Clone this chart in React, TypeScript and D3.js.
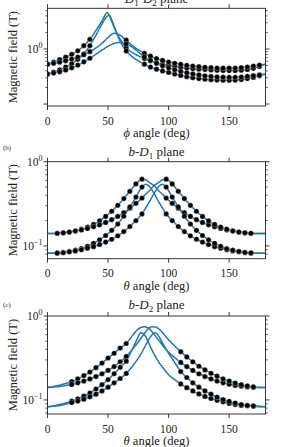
import React from "react";
import * as d3 from "d3";

const W = 293;
const H = 447;
const X0 = 47.5;
const X1 = 265.5;

// ---------- Panel (a): D1-D2 plane ----------
const anglesA = [0,5,10,15,20,25,30,35,38,41,44,47,49,51,53,55,58,61,65,70,75,80,85,90,95,100,105,110,115,120,125,130,135,140,145,150,155,160,165,170,175,180];
const a1 = [0.53,0.58,0.64,0.71,0.80,0.93,1.15,1.5,1.85,2.35,3.0,3.9,4.6,4.1,3.2,2.5,1.8,1.4,1.05,0.86,0.75,0.67,0.61,0.565,0.53,0.505,0.485,0.467,0.452,0.44,0.43,0.422,0.415,0.41,0.407,0.405,0.407,0.413,0.425,0.445,0.48,0.53];
const a2 = [0.35,0.38,0.42,0.47,0.54,0.65,0.82,1.15,1.5,1.95,2.6,3.4,3.9,4.1,3.4,2.6,1.75,1.25,0.92,0.72,0.61,0.53,0.47,0.43,0.40,0.375,0.35,0.33,0.313,0.30,0.29,0.282,0.276,0.272,0.27,0.27,0.272,0.278,0.29,0.305,0.325,0.35];
const a3 = [0.53,0.55,0.575,0.61,0.655,0.715,0.79,0.895,0.98,1.08,1.22,1.4,1.55,1.7,1.85,1.93,1.88,1.72,1.45,1.15,0.96,0.83,0.74,0.67,0.62,0.58,0.55,0.525,0.505,0.49,0.477,0.466,0.458,0.452,0.449,0.448,0.45,0.457,0.47,0.49,0.51,0.53];
const a4 = [0.35,0.365,0.385,0.415,0.455,0.51,0.585,0.68,0.75,0.83,0.92,1.02,1.09,1.15,1.21,1.26,1.32,1.31,1.24,1.08,0.88,0.72,0.62,0.55,0.495,0.455,0.42,0.392,0.37,0.352,0.338,0.326,0.317,0.311,0.307,0.305,0.306,0.31,0.318,0.328,0.338,0.35];
const markersA = [0,5,10,15,20,25,30,35,65,80,85,90,95,100,105,110,115,120,125,130,135,140,145,150,155,160,165,170,175];

// ---------- Panel (b): b-D1 plane ----------
const anglesB = [0,4,8,13,18,23,28,33,38,43,48,53,58,63,68,73,78,81,84,88,92,95,98,103,108,113,118,123,128,133,138,143,148,153,158,163,168,172,176,180];
const b1 = [0.140,0.140,0.141,0.143,0.146,0.151,0.158,0.167,0.180,0.198,0.224,0.258,0.303,0.365,0.445,0.545,0.62,0.61,0.57,0.52,0.45,0.41,0.37,0.32,0.28,0.248,0.224,0.205,0.19,0.178,0.169,0.161,0.155,0.150,0.146,0.143,0.141,0.140,0.140,0.140];
const b2 = [0.140,0.140,0.141,0.143,0.146,0.150,0.155,0.161,0.169,0.178,0.19,0.205,0.224,0.248,0.28,0.32,0.37,0.41,0.45,0.52,0.57,0.61,0.62,0.545,0.445,0.365,0.303,0.258,0.224,0.198,0.18,0.167,0.158,0.151,0.146,0.143,0.141,0.140,0.140,0.140];
const b3 = [0.082,0.082,0.083,0.084,0.086,0.089,0.093,0.099,0.107,0.118,0.133,0.153,0.182,0.225,0.29,0.38,0.50,0.54,0.51,0.42,0.33,0.28,0.24,0.20,0.17,0.148,0.132,0.12,0.111,0.104,0.098,0.094,0.09,0.087,0.085,0.083,0.082,0.082,0.082,0.082];
const b4 = [0.082,0.082,0.082,0.083,0.085,0.087,0.09,0.094,0.098,0.104,0.111,0.12,0.132,0.148,0.17,0.20,0.24,0.28,0.33,0.42,0.51,0.54,0.50,0.38,0.29,0.225,0.182,0.153,0.133,0.118,0.107,0.099,0.093,0.089,0.086,0.084,0.083,0.082,0.082,0.082];
const markersB = [8,13,18,23,28,33,38,43,48,53,58,63,68,73,78,98,103,108,113,118,123,128,133,138,143,148,153,158,163,168];

// ---------- Panel (c): b-D2 plane ----------
const anglesC = [0,5,10,15,20,25,30,35,40,45,50,55,60,65,70,74,77,80,83,86,89,92,96,100,105,110,115,120,125,130,135,140,145,150,155,160,165,170,175,180];
const c1 = [0.141,0.145,0.150,0.157,0.165,0.178,0.195,0.215,0.242,0.275,0.315,0.36,0.415,0.47,0.58,0.68,0.73,0.745,0.72,0.66,0.58,0.51,0.43,0.37,0.32,0.28,0.25,0.225,0.205,0.19,0.178,0.168,0.16,0.154,0.149,0.146,0.143,0.142,0.141,0.141];
const c2 = [0.141,0.143,0.145,0.149,0.153,0.16,0.168,0.178,0.19,0.205,0.225,0.25,0.285,0.33,0.40,0.47,0.54,0.62,0.70,0.745,0.74,0.70,0.61,0.52,0.44,0.376,0.325,0.285,0.252,0.228,0.208,0.192,0.178,0.168,0.159,0.152,0.147,0.143,0.141,0.141];
const c3 = [0.083,0.085,0.088,0.092,0.097,0.103,0.111,0.121,0.135,0.152,0.175,0.205,0.245,0.29,0.40,0.53,0.63,0.60,0.50,0.40,0.33,0.28,0.235,0.2,0.175,0.155,0.14,0.128,0.118,0.11,0.104,0.099,0.095,0.091,0.088,0.086,0.085,0.084,0.083,0.083];
const c4 = [0.083,0.084,0.086,0.089,0.093,0.097,0.102,0.109,0.117,0.128,0.142,0.16,0.18,0.207,0.25,0.30,0.35,0.42,0.51,0.59,0.63,0.57,0.45,0.36,0.28,0.218,0.185,0.16,0.142,0.128,0.117,0.108,0.101,0.096,0.092,0.088,0.086,0.085,0.084,0.083];
const markersC = [20,25,30,35,40,45,50,55,60,65,110,115,120,125,130,135,140,145,150,155,160,165,170];

const xTicks = [0, 50, 100, 150];

const SERIF = "'Liberation Serif', 'Times New Roman', 'DejaVu Serif', serif";
const BLUE = "#1f77b4";
const INK = "#222";

type PanelSpec = {
  top: number;
  bottom: number;
  yDomain: [number, number];
  angles: number[];
  series: number[][];
  markers: number[];
  majors: number[];
  labeled: { v: number; exp: string }[];
  minors: number[];
  title: React.ReactNode;
  xLabel: React.ReactNode;
  tag?: string;
  tagY?: number;
  titleY: number;
};

const panels: PanelSpec[] = [
  {
    top: 8.3,
    bottom: 106,
    yDomain: [0.092, 5.5],
    angles: anglesA,
    series: [a1, a2, a3, a4],
    markers: markersA,
    majors: [0.1, 1],
    labeled: [{ v: 1, exp: "0" }],
    minors: [0.2, 0.3, 0.4, 0.5, 0.6, 0.7, 0.8, 0.9, 2, 3, 4, 5],
    title: (
      <>
        <tspan fontStyle="italic">D</tspan>
        <tspan fontSize={9} dy={3}>1</tspan>
        <tspan dy={-3}>-</tspan>
        <tspan fontStyle="italic">D</tspan>
        <tspan fontSize={9} dy={3}>2</tspan>
        <tspan dy={-3}> plane</tspan>
      </>
    ),
    xLabel: (
      <>
        <tspan fontStyle="italic">ϕ</tspan>
        <tspan> angle (deg)</tspan>
      </>
    ),
    titleY: 2.5,
  },
  {
    top: 161.7,
    bottom: 258.7,
    yDomain: [0.0705, 1.0],
    angles: anglesB,
    series: [b1, b2, b3, b4],
    markers: markersB,
    majors: [0.1, 1],
    labeled: [
      { v: 1, exp: "0" },
      { v: 0.1, exp: "−1" },
    ],
    minors: [0.08, 0.09, 0.2, 0.3, 0.4, 0.5, 0.6, 0.7, 0.8, 0.9],
    title: (
      <>
        <tspan fontStyle="italic">b</tspan>
        <tspan>-</tspan>
        <tspan fontStyle="italic">D</tspan>
        <tspan fontSize={9} dy={3}>1</tspan>
        <tspan dy={-3}> plane</tspan>
      </>
    ),
    xLabel: (
      <>
        <tspan fontStyle="italic">θ</tspan>
        <tspan> angle (deg)</tspan>
      </>
    ),
    tag: "(b)",
    tagY: 150,
    titleY: 155.7,
  },
  {
    top: 316,
    bottom: 414,
    yDomain: [0.068, 1.0],
    angles: anglesC,
    series: [c1, c2, c3, c4],
    markers: markersC,
    majors: [0.1, 1],
    labeled: [
      { v: 1, exp: "0" },
      { v: 0.1, exp: "−1" },
    ],
    minors: [0.07, 0.08, 0.09, 0.2, 0.3, 0.4, 0.5, 0.6, 0.7, 0.8, 0.9],
    title: (
      <>
        <tspan fontStyle="italic">b</tspan>
        <tspan>-</tspan>
        <tspan fontStyle="italic">D</tspan>
        <tspan fontSize={9} dy={3}>2</tspan>
        <tspan dy={-3}> plane</tspan>
      </>
    ),
    xLabel: (
      <>
        <tspan fontStyle="italic">θ</tspan>
        <tspan> angle (deg)</tspan>
      </>
    ),
    tag: "(c)",
    tagY: 306.5,
    titleY: 308.5,
  },
];

function Panel({ p, idx }: { p: PanelSpec; idx: number }) {
  const x = d3.scaleLinear().domain([0, 180]).range([X0, X1]);
  const y = d3.scaleLog().domain(p.yDomain).range([p.bottom, p.top]);
  const line = d3
    .line<[number, number]>()
    .x((d) => x(d[0]))
    .y((d) => y(d[1]))
    .curve(d3.curveMonotoneX);
  const clipId = `clip-${idx}`;
  const cx = (X0 + X1) / 2;
  const cy = (p.top + p.bottom) / 2;
  const inRange = (v: number) => v >= p.yDomain[0] && v <= p.yDomain[1];
  const txt = { fontFamily: SERIF } as React.CSSProperties;
  return (
    <g>
      <defs>
        <clipPath id={clipId}>
          <rect x={X0} y={p.top} width={X1 - X0} height={p.bottom - p.top} />
        </clipPath>
      </defs>
      <g clipPath={`url(#${clipId})`}>
        {p.series.map((s, si) => (
          <path
            key={`l${si}`}
            d={line(p.angles.map((a, i) => [a, s[i]] as [number, number])) || ""}
            fill="none"
            stroke={BLUE}
            strokeWidth={1.5}
          />
        ))}
        {p.series.map((s, si) =>
          p.markers.map((m) => {
            const i = p.angles.indexOf(m);
            if (i < 0) return null;
            return (
              <circle
                key={`m${si}-${m}`}
                cx={x(m)}
                cy={y(s[i])}
                r={2.6}
                fill="#000"
                stroke="#fff"
                strokeWidth={0.3}
              />
            );
          })
        )}
      </g>
      <rect
        x={X0}
        y={p.top}
        width={X1 - X0}
        height={p.bottom - p.top}
        fill="none"
        stroke={INK}
        strokeWidth={0.9}
      />
      {p.majors.filter(inRange).map((v) => (
        <g key={`M${v}`}>
          <line x1={X0 - 4} x2={X0} y1={y(v)} y2={y(v)} stroke={INK} strokeWidth={0.9} />
          <line x1={X1} x2={X1 + 4} y1={y(v)} y2={y(v)} stroke={INK} strokeWidth={0.9} />
        </g>
      ))}
      {p.minors.filter(inRange).map((v) => (
        <g key={`m${v}`}>
          <line x1={X0 - 2.3} x2={X0} y1={y(v)} y2={y(v)} stroke={INK} strokeWidth={0.7} />
          <line x1={X1} x2={X1 + 2.3} y1={y(v)} y2={y(v)} stroke={INK} strokeWidth={0.7} />
        </g>
      ))}
      {p.labeled.map((l) => (
        <text
          key={`L${l.v}`}
          x={X0 - 5}
          y={y(l.v) + 4}
          textAnchor="end"
          style={txt}
          fontSize={11.5}
          fill={INK}
        >
          <tspan>10</tspan>
          <tspan fontSize={8} dy={-5}>{l.exp}</tspan>
        </text>
      ))}
      {xTicks.map((t) => (
        <g key={`x${t}`}>
          <line x1={x(t)} x2={x(t)} y1={p.bottom} y2={p.bottom + 4} stroke={INK} strokeWidth={0.9} />
          <line x1={x(t)} x2={x(t)} y1={p.top - 4} y2={p.top} stroke={INK} strokeWidth={0.9} />
          <text
            x={x(t)}
            y={p.bottom + 18.5}
            textAnchor="middle"
            style={txt}
            fontSize={11.5}
            fill={INK}
          >
            {t}
          </text>
        </g>
      ))}
      <text
        x={cx}
        y={p.bottom + 31}
        textAnchor="middle"
        style={txt}
        fontSize={12.5}
        fill={INK}
      >
        {p.xLabel}
      </text>
      <text
        transform={`translate(16.5,${cy}) rotate(-90)`}
        textAnchor="middle"
        style={txt}
        fontSize={12.5}
        fill={INK}
      >
        Magnetic field (T)
      </text>
      <text
        x={cx}
        y={p.titleY}
        textAnchor="middle"
        style={txt}
        fontSize={13}
        fill={INK}
      >
        {p.title}
      </text>
      {p.tag && (
        <text x={3} y={p.tagY} style={txt} fontSize={7} fill={INK}>
          {p.tag}
        </text>
      )}
    </g>
  );
}

export default function App() {
  return (
    <svg
      width={W}
      height={H}
      viewBox={`0 0 ${W} ${H}`}
      style={{ position: "absolute", left: 0, top: 0, background: "#fff" }}
    >
      <rect x={0} y={0} width={W} height={H} fill="#fff" />
      {panels.map((p, i) => (
        <Panel key={i} p={p} idx={i} />
      ))}
    </svg>
  );
}
